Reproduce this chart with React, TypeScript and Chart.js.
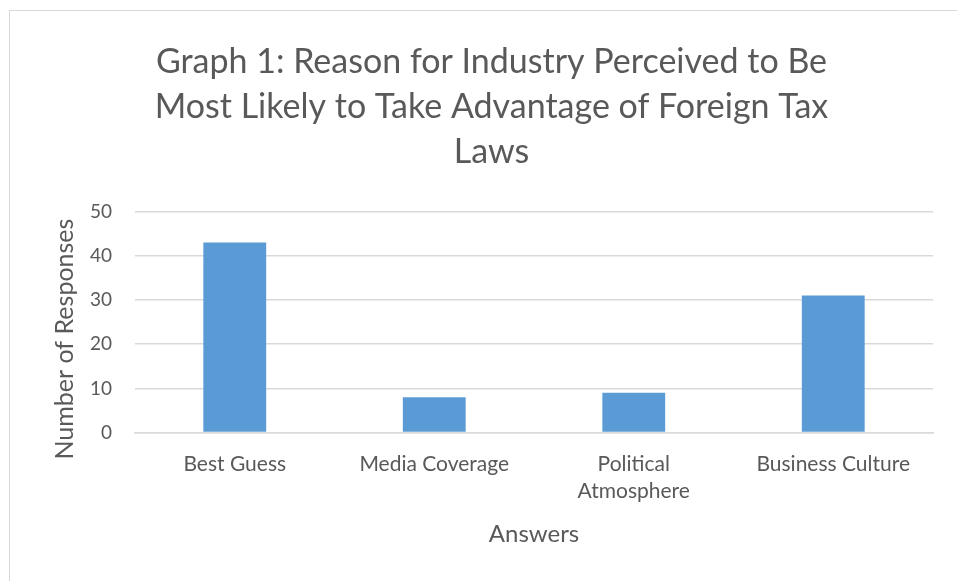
import React, { useEffect, useRef } from "react";
import { Chart, registerables } from "chart.js";

Chart.register(...registerables);

const categories: (string | string[])[] = [
  "Best Guess",
  "Media Coverage",
  ["Political", "Atmosphere"],
  "Business Culture",
];
const responses: number[] = [43, 8, 9, 31];
const titleLines: string[] = [
  "Graph 1: Reason for Industry Perceived to Be",
  "Most Likely to Take Advantage of Foreign Tax",
  "Laws",
];
const yAxisTitle = "Number of Responses";
const xAxisTitle = "Answers";

const FONT = "Lato, 'Open Sans', sans-serif";
const TEXT = "#595959";
const GRID = "#D9D9D9";
const BAR = "#5B9BD5";

// Excel centres the value-axis title a little lower than the plot's middle.
const yTitlePlugin = {
  id: "yTitleExcel",
  afterDraw(chart: any) {
    const { ctx, chartArea } = chart;
    ctx.save();
    ctx.translate(chartArea.left - 70, (chartArea.top + chartArea.bottom) / 2 + 17);
    ctx.rotate(-Math.PI / 2);
    ctx.fillStyle = TEXT;
    ctx.font = `25px ${FONT}`;
    ctx.textAlign = "center";
    ctx.textBaseline = "middle";
    ctx.fillText(yAxisTitle, 0, 0);
    ctx.restore();
  },
};

export default function App() {
  const ref = useRef<HTMLCanvasElement | null>(null);

  useEffect(() => {
    document.body.style.margin = "0";
    const canvas = ref.current;
    if (!canvas) return;
    const chart = new Chart(canvas, {
      type: "bar",
      data: {
        labels: categories,
        datasets: [
          {
            data: responses,
            backgroundColor: BAR,
            borderWidth: 0,
            barPercentage: 0.315,
            categoryPercentage: 1,
          },
        ],
      },
      plugins: [yTitlePlugin],
      options: {
        animation: false,
        responsive: false,
        maintainAspectRatio: false,
        layout: { padding: { left: 50, right: 24, top: 40, bottom: 32 } },
        plugins: {
          legend: { display: false },
          tooltip: { enabled: false },
          title: {
            display: true,
            text: titleLines,
            color: TEXT,
            font: { family: FONT, size: 34, weight: "normal", lineHeight: 1.32 },
            padding: { top: 0, bottom: 37 },
          },
        },
        scales: {
          x: {
            grid: { display: false },
            border: { display: true, color: GRID, width: 1.5 },
            ticks: {
              color: TEXT,
              font: { family: FONT, size: 21, lineHeight: 1.3 },
              maxRotation: 0,
              autoSkip: false,
              padding: 10,
            },
            title: {
              display: true,
              text: xAxisTitle,
              color: TEXT,
              font: { family: FONT, size: 24 },
              padding: { top: 5, bottom: 0 },
            },
          },
          y: {
            min: 0,
            max: 50,
            afterFit: (scale: any) => {
              scale.width = 85;
            },
            ticks: {
              stepSize: 10,
              color: TEXT,
              font: { family: FONT, size: 19 },
              padding: 23,
            },
            grid: { color: GRID, lineWidth: 1.5, drawTicks: false },
            border: { display: false },
            title: { display: false },
          },
        },
      },
    });
    return () => chart.destroy();
  }, []);

  return (
    <div style={{ position: "relative", width: 957, height: 581, background: "#fff", overflow: "hidden" }}>
      <div
        style={{
          position: "absolute",
          left: 9,
          top: 10,
          width: 960,
          height: 580,
          border: "1px solid #D9D9D9",
          boxSizing: "border-box",
        }}
      />
      <canvas ref={ref} width={957} height={581} style={{ position: "absolute", left: 0, top: 0 }} />
    </div>
  );
}
